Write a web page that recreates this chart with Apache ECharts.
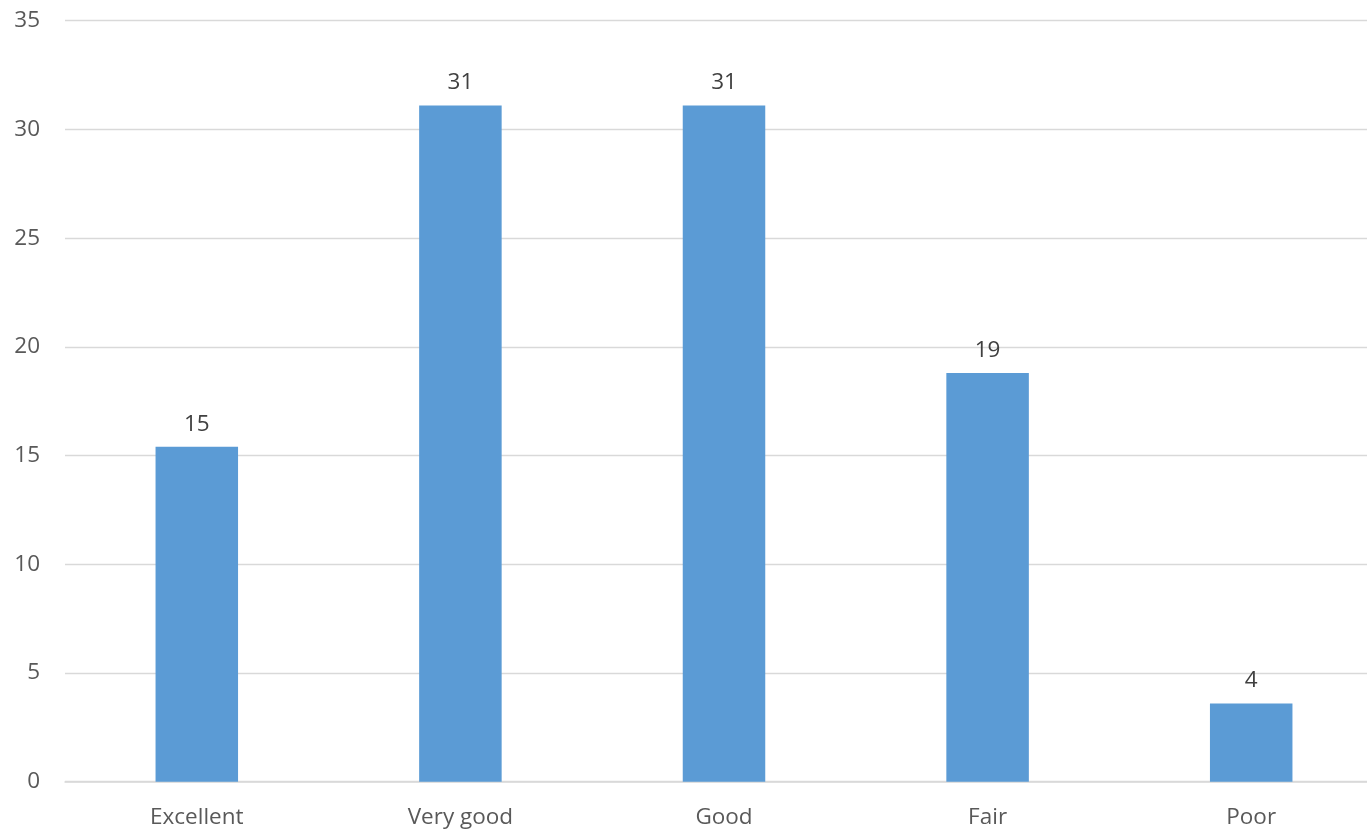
<!DOCTYPE html>
<html><head><meta charset="utf-8">
<script src="https://cdn.jsdelivr.net/npm/echarts@6/dist/echarts.min.js"></script>
<style>html,body{margin:0;padding:0;background:#fff;overflow:hidden;width:1367px;height:833px}#c{width:1383px;height:833px}</style>
</head><body><div id="c"></div>
<script>
const categories = ["Excellent", "Very good", "Good", "Fair", "Poor"];
const values = [15.4, 31.1, 31.1, 18.8, 3.6];
const yTicks = { min: 0, max: 35, interval: 5 };

const chart = echarts.init(document.getElementById('c'), null, { renderer: 'canvas' });
const font = '"Open Sans", "Noto Sans", sans-serif';
chart.setOption({
  animation: false,
  grid: { left: 65, top: 20.7, right: 0, height: 761, containLabel: false },
  xAxis: {
    type: 'category', data: categories,
    axisLine: { show: true, lineStyle: { color: '#D9D9D9', width: 1.5 } },
    axisTick: { show: false },
    axisLabel: { color: '#595959', fontSize: 22.5, fontFamily: font, margin: 24 }
  },
  yAxis: {
    type: 'value', min: yTicks.min, max: yTicks.max, interval: yTicks.interval,
    axisLine: { show: false }, axisTick: { show: false },
    splitLine: { lineStyle: { color: '#D9D9D9', width: 1.3 } },
    axisLabel: { color: '#595959', fontSize: 22.5, fontFamily: font, margin: 25 }
  },
  series: [{
    type: 'bar', data: values, barWidth: '31.3%',
    itemStyle: { color: '#5B9BD5' },
    label: { show: true, position: 'top', distance: 11, color: '#404040', fontSize: 22.5, fontFamily: font,
      formatter: p => Math.round(p.value) }
  }]
});
</script></body></html>
